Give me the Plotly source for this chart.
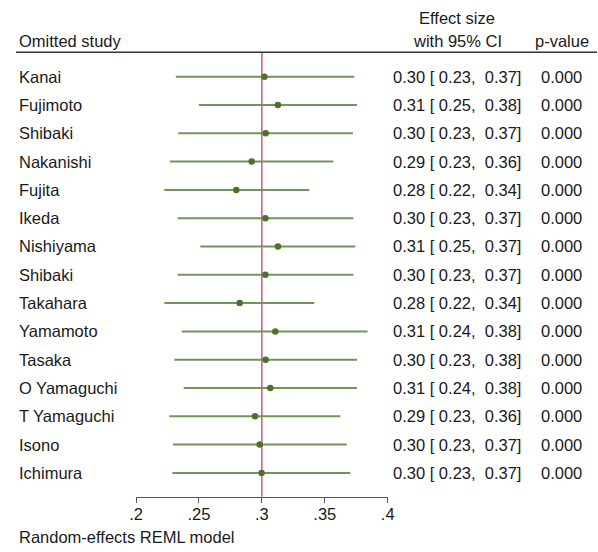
import plotly.graph_objects as go

studies = ["Kanai", "Fujimoto", "Shibaki", "Nakanishi", "Fujita", "Ikeda",
           "Nishiyama", "Shibaki", "Takahara", "Yamamoto", "Tasaka",
           "O Yamaguchi", "T Yamaguchi", "Isono", "Ichimura"]
est = [0.302, 0.3128, 0.3030, 0.2919, 0.2797, 0.3028, 0.3128, 0.3028,
       0.2824, 0.3107, 0.3030, 0.3067, 0.2946, 0.2983, 0.2998]
ci_lo = [0.2316, 0.2500, 0.2336, 0.2270, 0.2225, 0.2331, 0.2511, 0.2331,
         0.2225, 0.2363, 0.2305, 0.2379, 0.2265, 0.2294, 0.2289]
ci_hi = [0.3735, 0.3756, 0.3724, 0.3568, 0.3377, 0.3727, 0.3743, 0.3727,
         0.3417, 0.3840, 0.3756, 0.3756, 0.3624, 0.3674, 0.3703]
p_values = [0.0] * 15
overall = 0.30
tick_vals = [0.2, 0.25, 0.3, 0.35, 0.4]
tick_text = [".2", ".25", ".3", ".35", ".4"]

W, H = 598, 552
FONT = "Liberation Sans, Arial, Helvetica, sans-serif"
TXT = "#1a1a1a"
FS = 16.5

rows = list(range(len(studies)))

fig = go.Figure()
fig.add_trace(go.Scatter(
    x=est, y=rows, mode="markers",
    marker=dict(size=6.5, color="#4e7229"),
    error_x=dict(type="data", symmetric=False,
                 array=[h - e for h, e in zip(ci_hi, est)],
                 arrayminus=[e - l for e, l in zip(est, ci_lo)],
                 width=0, thickness=2, color="#74945a"),
    hoverinfo="skip", showlegend=False))

ann = []
def px(x):
    return x / W
def py(y):
    return 1 - y / H

for i, s in enumerate(studies):
    ann.append(dict(x=px(17), y=i, xref="paper", yref="y", text=s,
                    xanchor="left", yanchor="middle", showarrow=False,
                    font=dict(size=FS, color=TXT, family=FONT)))
    ann.append(dict(x=px(457), y=i, xref="paper", yref="y",
                    text=f"{est[i]:.2f} [ {ci_lo[i]:.2f},  {ci_hi[i]:.2f}]".replace(" ", "&nbsp;"),
                    xanchor="center", yanchor="middle", showarrow=False,
                    font=dict(size=FS, color=TXT, family=FONT)))
    ann.append(dict(x=px(561), y=i, xref="paper", yref="y",
                    text=f"{p_values[i]:.3f}",
                    xanchor="center", yanchor="middle", showarrow=False,
                    font=dict(size=FS, color=TXT, family=FONT)))

hdr = [("Omitted study", 17, 40.7, "left"),
       ("Effect size", 457, 18.3, "center"),
       ("with 95% CI", 457, 40.7, "center"),
       ("p-value", 562, 40.7, "center"),
       ("Random-effects REML model", 17, 537, "left")]
for t, x, y, a in hdr:
    ann.append(dict(x=px(x), y=py(y), xref="paper", yref="paper", text=t,
                    xanchor=a, yanchor="middle", showarrow=False,
                    font=dict(size=FS, color=TXT, family=FONT)))

shapes = [
    dict(type="line", xref="paper", yref="paper", x0=px(16), x1=px(597),
         y0=py(52.3), y1=py(52.3), line=dict(color="#333333", width=1.5)),
    dict(type="line", xref="x", yref="y domain", x0=overall, x1=overall,
         y0=0, y1=1, line=dict(color="#cc5a82", width=1.5), layer="below"),
]

y_top_px, y_bot_px = 52.3, 496.7
row0_px, row_step = 76.7, 28.3
fig.update_layout(
    width=W, height=H,
    margin=dict(l=0, r=0, t=0, b=0, pad=0, autoexpand=False),
    paper_bgcolor="white", plot_bgcolor="white",
    annotations=ann, shapes=shapes,
    xaxis=dict(domain=[136 / W, 387.7 / W], range=[0.2, 0.4],
               tickvals=tick_vals, ticktext=tick_text, automargin=False,
               showline=True, linecolor="#555555", linewidth=1.3,
               ticks="outside", ticklen=5, tickcolor="#555555", tickwidth=1.3,
               ticklabelstandoff=-3,
               showgrid=False, zeroline=False,
               tickfont=dict(size=FS, color=TXT, family=FONT)),
    yaxis=dict(domain=[1 - y_bot_px / H, 1 - y_top_px / H], automargin=False,
               range=[(y_bot_px - row0_px) / row_step, (y_top_px - row0_px) / row_step],
               visible=False, showgrid=False, zeroline=False),
)

fig.write_html("out.html", config={"displayModeBar": False},
               post_script="document.body.style.margin='0';document.body.style.overflow='hidden';")
